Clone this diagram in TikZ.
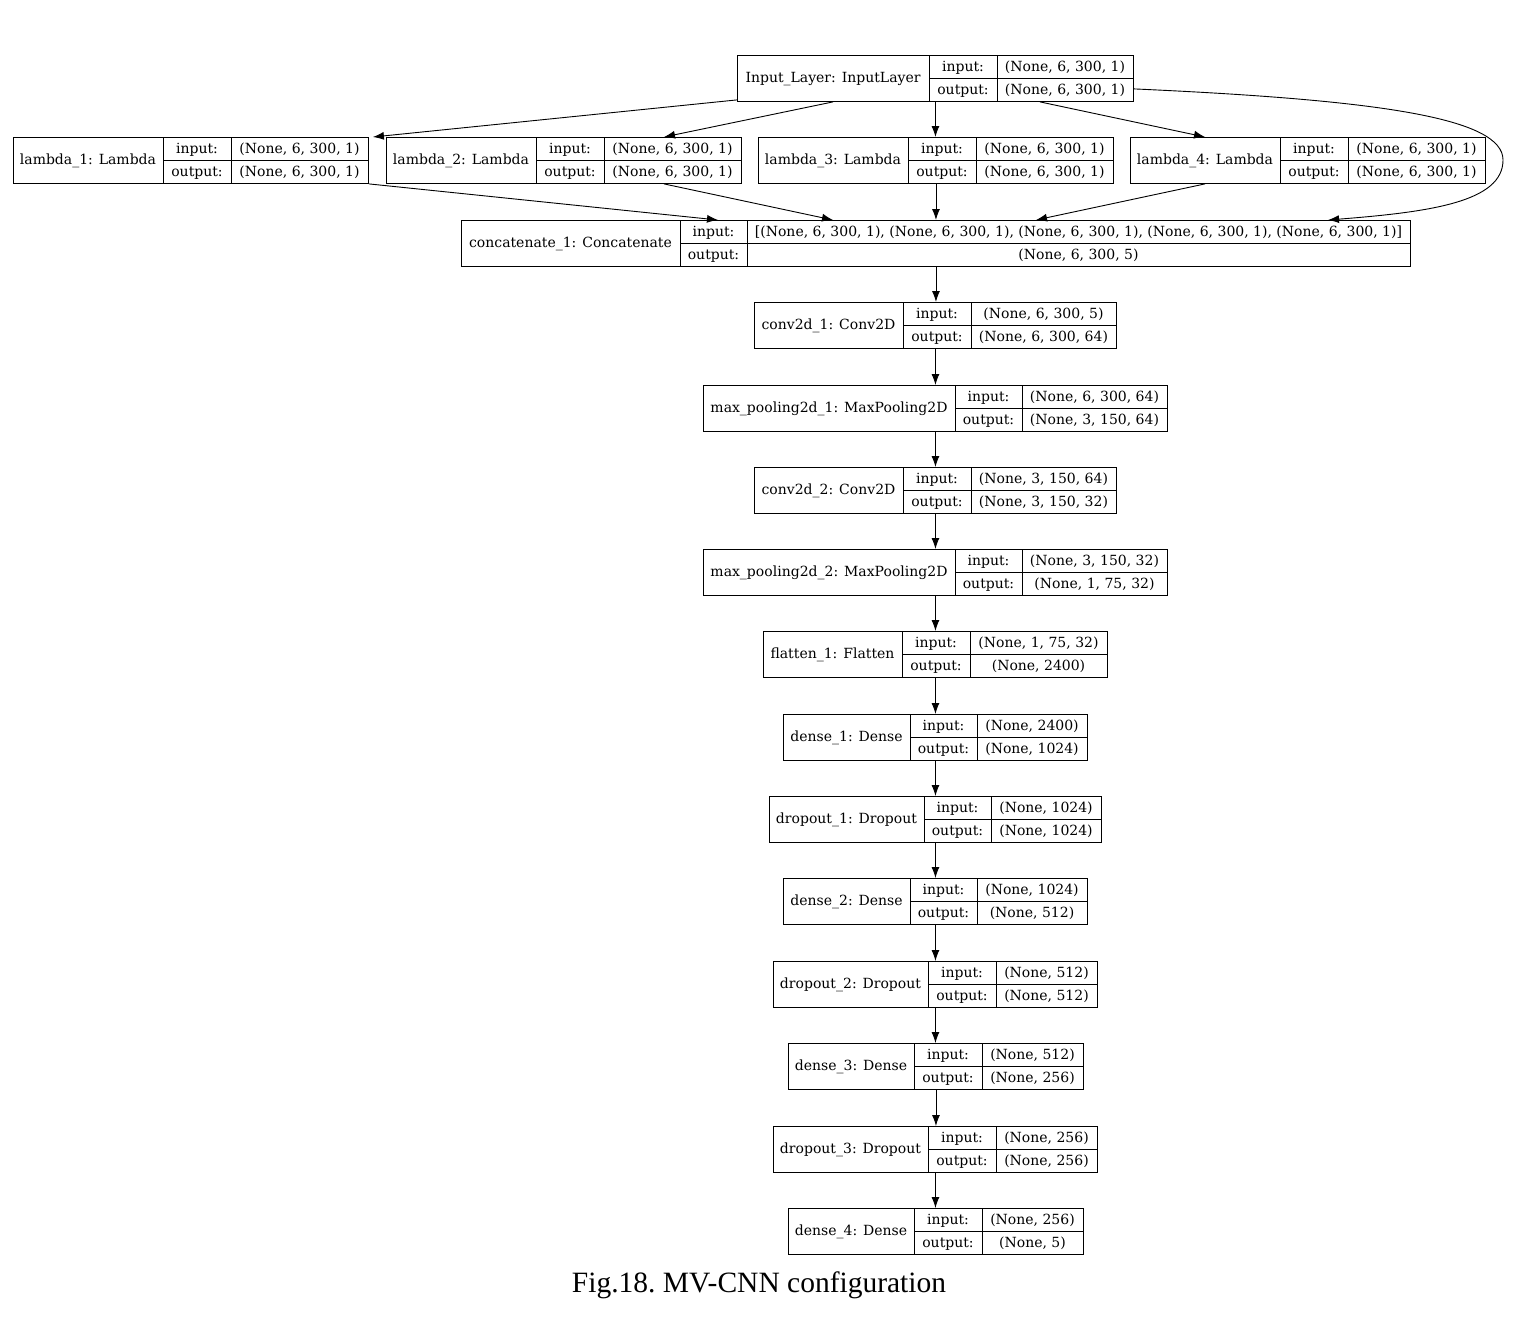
\documentclass[tikz,border=0pt]{standalone}
\usepackage{fontspec}
\setmainfont{DejaVu Serif}
\newfontfamily\capfont{Liberation Serif}
\usetikzlibrary{arrows.meta}
\tikzset{
  layerbox/.style={draw, line width=0.9pt, minimum height=46pt, inner sep=0pt},
  layerline/.style={line width=0.9pt},
  txt/.style={inner sep=0pt, text height=10pt, text depth=1pt, font=\fontsize{14}{16}\selectfont},
  conn/.style={line width=0.9pt, -{Latex[length=11pt,width=8pt]}},
}
\newcommand\mylayer[9]{%
  \pgfmathsetmacro\lw{#3-#2}%
  \node[layerbox, minimum width=\lw pt, anchor=north west] (#1) at (#2,#6) {};
  \draw[layerline] (#4,#6) -- (#4,{#6+46});
  \draw[layerline] (#5,#6) -- (#5,{#6+46});
  \draw[layerline] (#4,{#6+23}) -- (#3,{#6+23});
  \node[txt] (#1-name) at ({(#2+#4)/2},{#6+23}) {#7};
  \node[txt] (#1-inl) at ({(#4+#5)/2},{#6+11.5}) {input:};
  \node[txt] (#1-outl) at ({(#4+#5)/2},{#6+34.5}) {output:};
  \node[txt] (#1-inv) at ({(#5+#3)/2},{#6+11.5}) {#8};
  \node[txt] (#1-outv) at ({(#5+#3)/2},{#6+34.5}) {#9};
}
\begin{document}
\begin{tikzpicture}[x=1pt,y=-1pt]
\useasboundingbox[fill=white] (0,0) rectangle (1514,1336);
\mylayer{inp}{737}{1133}{929}{997}{55}{Input\_Layer: InputLayer}{(None, 6, 300, 1)}{(None, 6, 300, 1)}
\mylayer{la}{13}{368}{163}{231}{137}{lambda\_1: Lambda}{(None, 6, 300, 1)}{(None, 6, 300, 1)}
\mylayer{lb}{386}{741}{536}{604}{137}{lambda\_2: Lambda}{(None, 6, 300, 1)}{(None, 6, 300, 1)}
\mylayer{lc}{758}{1113}{908}{976}{137}{lambda\_3: Lambda}{(None, 6, 300, 1)}{(None, 6, 300, 1)}
\mylayer{ld}{1130}{1485}{1280}{1348}{137}{lambda\_4: Lambda}{(None, 6, 300, 1)}{(None, 6, 300, 1)}
\mylayer{cat}{461}{1410}{680}{747}{220}{concatenate\_1: Concatenate}{[(None, 6, 300, 1), (None, 6, 300, 1), (None, 6, 300, 1), (None, 6, 300, 1), (None, 6, 300, 1)]}{(None, 6, 300, 5)}
\mylayer{cva}{754}{1116}{903}{971}{302}{conv2d\_1: Conv2D}{(None, 6, 300, 5)}{(None, 6, 300, 64)}
\mylayer{mpa}{703}{1167}{955}{1022}{385}{max\_pooling2d\_1: MaxPooling2D}{(None, 6, 300, 64)}{(None, 3, 150, 64)}
\mylayer{cvb}{754}{1116}{903}{971}{467}{conv2d\_2: Conv2D}{(None, 3, 150, 64)}{(None, 3, 150, 32)}
\mylayer{mpb}{703}{1167}{955}{1022}{549}{max\_pooling2d\_2: MaxPooling2D}{(None, 3, 150, 32)}{(None, 1, 75, 32)}
\mylayer{fl}{763}{1107}{902}{970}{631}{flatten\_1: Flatten}{(None, 1, 75, 32)}{(None, 2400)}
\mylayer{dea}{783}{1087}{910}{977}{714}{dense\_1: Dense}{(None, 2400)}{(None, 1024)}
\mylayer{dra}{769}{1101}{924}{991}{796}{dropout\_1: Dropout}{(None, 1024)}{(None, 1024)}
\mylayer{deb}{783}{1087}{910}{977}{878}{dense\_2: Dense}{(None, 1024)}{(None, 512)}
\mylayer{drb}{773}{1097}{928}{996}{961}{dropout\_2: Dropout}{(None, 512)}{(None, 512)}
\mylayer{dec}{788}{1083}{914}{982}{1043}{dense\_3: Dense}{(None, 512)}{(None, 256)}
\mylayer{drc}{773}{1097}{928}{996}{1126}{dropout\_3: Dropout}{(None, 256)}{(None, 256)}
\mylayer{ded}{788}{1083}{914}{982}{1208}{dense\_4: Dense}{(None, 256)}{(None, 5)}
% input to lambdas
\draw[conn] ([yshift=2pt]inp.south west) -- ([xshift=4pt]la.north east);
\draw[conn] ([xshift=96pt]inp.south west) -- ([xshift=278pt]lb.north west);
\draw[conn] (inp.south) -- (inp.south |- lc.north);
\draw[conn] ([xshift=303pt]inp.south west) -- ([xshift=75pt]ld.north west);
% lambdas to concatenate
\draw[conn] (la.south east) -- ([xshift=257pt]cat.north west);
\draw[conn] ([xshift=278pt]lb.south west) -- ([xshift=372pt]cat.north west);
\draw[conn] (lc.south) -- (lc.south |- cat.north);
\draw[conn] ([xshift=75pt]ld.south west) -- ([xshift=575pt]cat.north west);
\coordinate (bend) at (1503,160);
\draw[conn] ([yshift=13pt]inp.south east) .. controls (1380,100) and (1503,118) .. (bend) .. controls (1503,202) and (1430,212) .. ([xshift=867pt]cat.north west);
% column
\draw[conn] (cat.south) -- (cat.south |- cva.north);
\draw[conn] (cva.south) -- (cva.south |- mpa.north);
\draw[conn] (mpa.south) -- (mpa.south |- cvb.north);
\draw[conn] (cvb.south) -- (cvb.south |- mpb.north);
\draw[conn] (mpb.south) -- (mpb.south |- fl.north);
\draw[conn] (fl.south) -- (fl.south |- dea.north);
\draw[conn] (dea.south) -- (dea.south |- dra.north);
\draw[conn] (dra.south) -- (dra.south |- deb.north);
\draw[conn] (deb.south) -- (deb.south |- drb.north);
\draw[conn] (drb.south) -- (drb.south |- dec.north);
\draw[conn] (dec.south) -- (dec.south |- drc.north);
\draw[conn] (drc.south) -- (drc.south |- ded.north);
\node[inner sep=0pt, anchor=base, font=\capfont\fontsize{29.5}{34}\selectfont] (cap) at (759,1292) {Fig.18.\ MV-CNN configuration};
\end{tikzpicture}
\end{document}
